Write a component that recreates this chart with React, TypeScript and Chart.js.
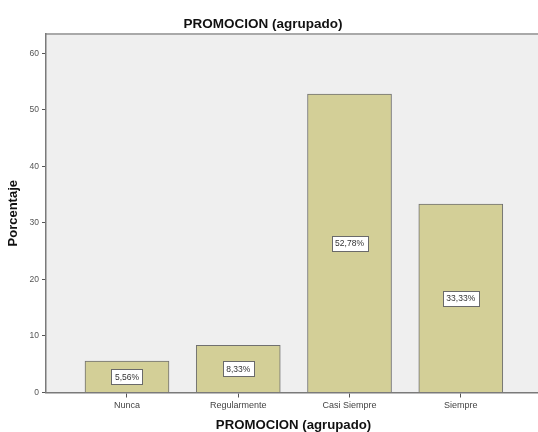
import React, { useEffect, useRef } from "react";
import { Chart, registerables } from "chart.js";

Chart.register(...registerables);

const categories = ["Nunca", "Regularmente", "Casi Siempre", "Siempre"];
const percentages = [5.56, 8.33, 52.78, 33.33];
const yTickValues = [0, 10, 20, 30, 40, 50, 60];
const chartTitle = "PROMOCION (agrupado)";
const xTitle = "PROMOCION (agrupado)";
const yTitle = "Porcentaje";

const FONT = "'Liberation Sans', Arial, sans-serif";

const panelPlugin = {
  id: "panelBg",
  beforeDraw(chart: any) {
    const { ctx, chartArea: ca } = chart;
    ctx.save();
    ctx.fillStyle = "#efefef";
    ctx.fillRect(ca.left, ca.top, ca.right - ca.left, ca.bottom - ca.top);
    ctx.strokeStyle = "#a9a9a9";
    ctx.lineWidth = 2;
    ctx.beginPath();
    ctx.moveTo(ca.left, ca.top);
    ctx.lineTo(ca.right, ca.top);
    ctx.stroke();
    ctx.restore();
  },
};

const labelPlugin = {
  id: "barLabels",
  afterDatasetsDraw(chart: any) {
    const { ctx } = chart;
    const meta = chart.getDatasetMeta(0);
    ctx.save();
    ctx.font = `8.5px ${FONT}`;
    ctx.textAlign = "center";
    ctx.textBaseline = "middle";
    meta.data.forEach((bar: any, i: number) => {
      const { x, y, base } = bar.getProps(["x", "y", "base"], true);
      const cy = (y + base) / 2;
      const text = percentages[i].toFixed(2).replace(".", ",") + "%";
      const w = ctx.measureText(text).width + 7;
      const h = 15;
      ctx.fillStyle = "#ffffff";
      ctx.fillRect(Math.round(x - w / 2) + 0.5, Math.round(cy - h / 2) + 0.5, Math.round(w), h);
      ctx.strokeStyle = "#6a6a6a";
      ctx.lineWidth = 1;
      ctx.strokeRect(Math.round(x - w / 2) + 0.5, Math.round(cy - h / 2) + 0.5, Math.round(w), h);
      ctx.fillStyle = "#333333";
      ctx.fillText(text, x, cy + 1);
    });
    ctx.restore();
  },
};

export default function App() {
  const ref = useRef<HTMLCanvasElement | null>(null);

  useEffect(() => {
    if (!ref.current) return;
    const chart = new Chart(ref.current, {
      type: "bar",
      data: {
        datasets: [
          {
            label: yTitle,
            data: percentages.map((v, i) => ({ x: i, y: v })),
            backgroundColor: "#d3cf97",
            borderColor: "#707070",
            borderWidth: 1,
            barThickness: 84,
          },
        ],
      },
      options: {
        animation: false,
        responsive: false,
        devicePixelRatio: 1,
        layout: { padding: { left: 0, right: 4, top: 0, bottom: 0 } },
        plugins: {
          legend: { display: false },
          tooltip: { enabled: false },
          title: {
            display: true,
            text: chartTitle,
            color: "#111111",
            font: { family: FONT, size: 13.5, weight: "bold" },
            padding: { top: 16, bottom: 1.8 },
          },
        },
        scales: {
          x: {
            type: "linear",
            offset: false,
            min: -0.728,
            max: 3.721,
            afterBuildTicks: (scale: any) => {
              scale.ticks = categories.map((_, i) => ({ value: i }));
            },
            afterFit: (scale: any) => {
              scale.height = 39.5;
            },
            ticks: {
              callback: (v: any) => categories[Number(v)] ?? "",
              color: "#444444",
              font: { family: FONT, size: 9 },
              padding: 3,
              maxRotation: 0,
              autoSkip: false,
            },
            grid: { offset: false, drawOnChartArea: false, drawTicks: true, tickLength: 5, color: "#555555" },
            border: { display: true, color: "#7a7a7a", width: 1.5 },
            title: {
              display: true,
              text: xTitle,
              color: "#111111",
              font: { family: FONT, size: 13.2, weight: "bold" },
              padding: { top: 0, bottom: -1 },
            },
          },
          y: {
            min: 0,
            max: 63.4,
            afterBuildTicks: (scale: any) => {
              scale.ticks = yTickValues.map((v) => ({ value: v }));
            },
            afterFit: (scale: any) => {
              scale.width = 61;
            },
            ticks: {
              color: "#555555",
              font: { family: FONT, size: 8.5 },
              padding: 3,
            },
            grid: { drawOnChartArea: false, drawTicks: true, tickLength: 4, color: "#555555" },
            border: { display: true, color: "#7a7a7a", width: 1.5 },
            title: {
              display: true,
              text: yTitle,
              color: "#111111",
              font: { family: FONT, size: 13, weight: "bold" },
              padding: { top: 21, bottom: 0 },
            },
          },
        },
      },
      plugins: [panelPlugin, labelPlugin],
    } as any);
    return () => chart.destroy();
  }, []);

  return (
    <div
      style={{
        position: "absolute",
        left: 0,
        top: 0,
        width: 538,
        height: 432,
        overflow: "hidden",
        background: "#ffffff",
      }}
    >
      <canvas
        ref={ref}
        width={560}
        height={432}
        style={{ position: "absolute", left: -15, top: 0, width: 560, height: 432 }}
      />
    </div>
  );
}
